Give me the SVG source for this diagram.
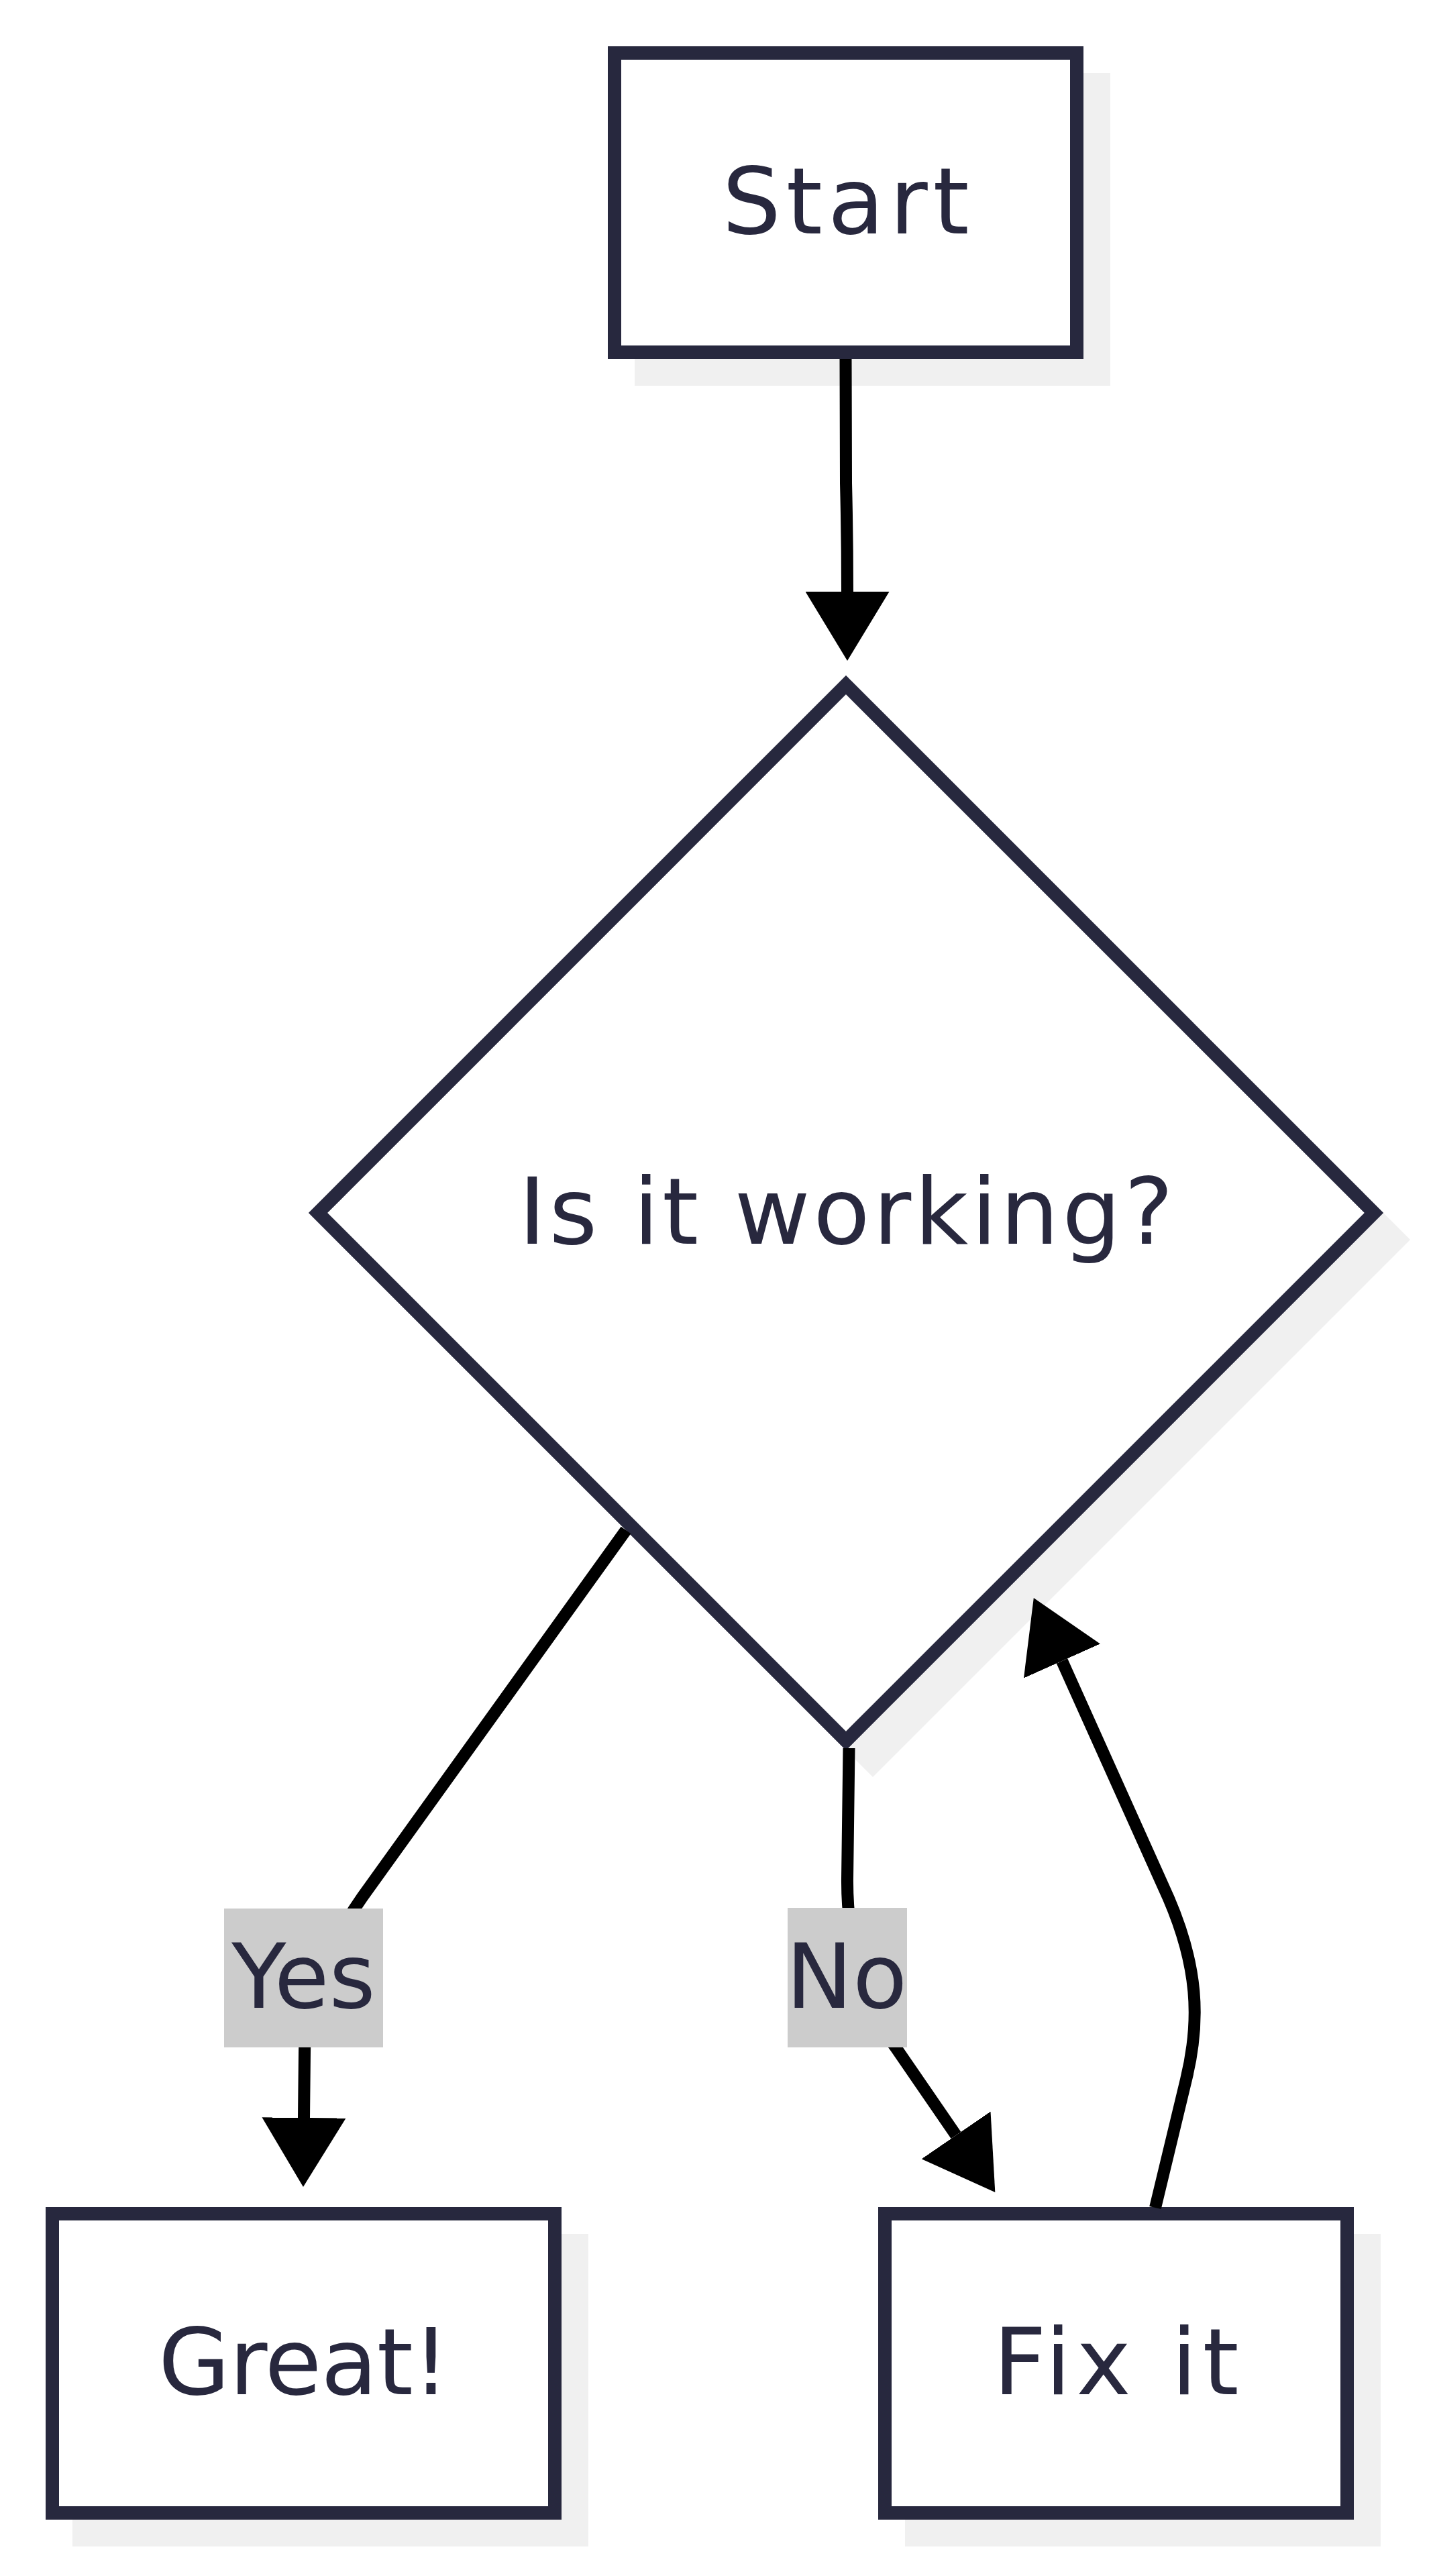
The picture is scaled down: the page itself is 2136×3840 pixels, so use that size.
<svg xmlns="http://www.w3.org/2000/svg" width="2136" height="3840" viewBox="0 0 2136 3840">
  <defs>
    <style>
      .shadow{fill:#f0f0f0}
      .node-shape{fill:#ffffff;stroke:#27283e;stroke-width:20;stroke-linejoin:miter}
      .node-text{font-family:"DejaVu Sans",sans-serif;font-size:138px;fill:#28283e;text-anchor:middle}
      .edge{fill:none;stroke:#000000;stroke-width:18}
      .edge-label-bg{fill:#cccccc}
      .edge-label{font-family:"DejaVu Sans",sans-serif;font-size:133px;fill:#28283e;text-anchor:middle}
    </style>
    <marker id="arrow" markerUnits="userSpaceOnUse" viewBox="0 0 103 125" markerWidth="103" markerHeight="125" refX="0" refY="62.5" orient="auto">
      <path d="M0,0 L103,62.5 L0,125 Z" fill="#000000"/>
    </marker>
  </defs>
  <rect x="0" y="0" width="2136" height="3840" fill="#ffffff"/>

  <g id="nodes">
    <g id="node-start">
      <rect class="shadow" x="946" y="109" width="709" height="466"/>
      <rect class="node-shape" x="916" y="79" width="689" height="446"/>
      <text class="node-text" x="1260.5" y="348" textLength="368" lengthAdjust="spacing">Start</text>
    </g>
    <g id="node-decision">
      <polygon class="shadow" points="1301,1047 2102,1848 1301,2649 500,1848"/>
      <polygon class="node-shape" points="1261,1021 2048,1808 1261,2595 474,1808"/>
      <text class="node-text" x="1261" y="1854" textLength="976" lengthAdjust="spacing">Is it working?</text>
    </g>
    <g id="node-great">
      <rect class="shadow" x="108" y="3330" width="769" height="466"/>
      <rect class="node-shape" x="78" y="3300" width="749" height="446"/>
      <text class="node-text" x="453" y="3569" textLength="434" lengthAdjust="spacing">Great!</text>
    </g>
    <g id="node-fix">
      <rect class="shadow" x="1349" y="3330" width="709" height="466"/>
      <rect class="node-shape" x="1319" y="3300" width="689" height="446"/>
      <text class="node-text" x="1663.5" y="3569" textLength="366" lengthAdjust="spacing">Fix it</text>
    </g>
  </g>

  <g id="connectors">
    <path id="edge-start-decision" class="edge" marker-end="url(#arrow)" d="M1260.5,535 L1261,720 Q1263,800 1263,882"/>
    <path id="edge-decision-great" class="edge" marker-end="url(#arrow)" d="M933,2281 L540,2828 Q455,2950 454,3060 L453,3157"/>
    <path id="edge-decision-fix" class="edge" marker-end="url(#arrow)" d="M1265.5,2606 L1263,2800 C1262,2900 1290,2990 1335,3052 L1425,3183"/>
    <path id="edge-fix-decision" class="edge" marker-end="url(#arrow)" d="M1722,3291 L1768,3100 C1790,3010 1785,2930 1742,2830 L1583,2476"/>
  </g>

  <g id="edge-labels">
    <g id="label-yes">
      <rect class="edge-label-bg" x="334" y="2845" width="237" height="207"/>
      <text class="edge-label" x="452.5" y="2993">Yes</text>
    </g>
    <g id="label-no">
      <rect class="edge-label-bg" x="1174" y="2844" width="178" height="208"/>
      <text class="edge-label" x="1262" y="2993">No</text>
    </g>
  </g>
</svg>
